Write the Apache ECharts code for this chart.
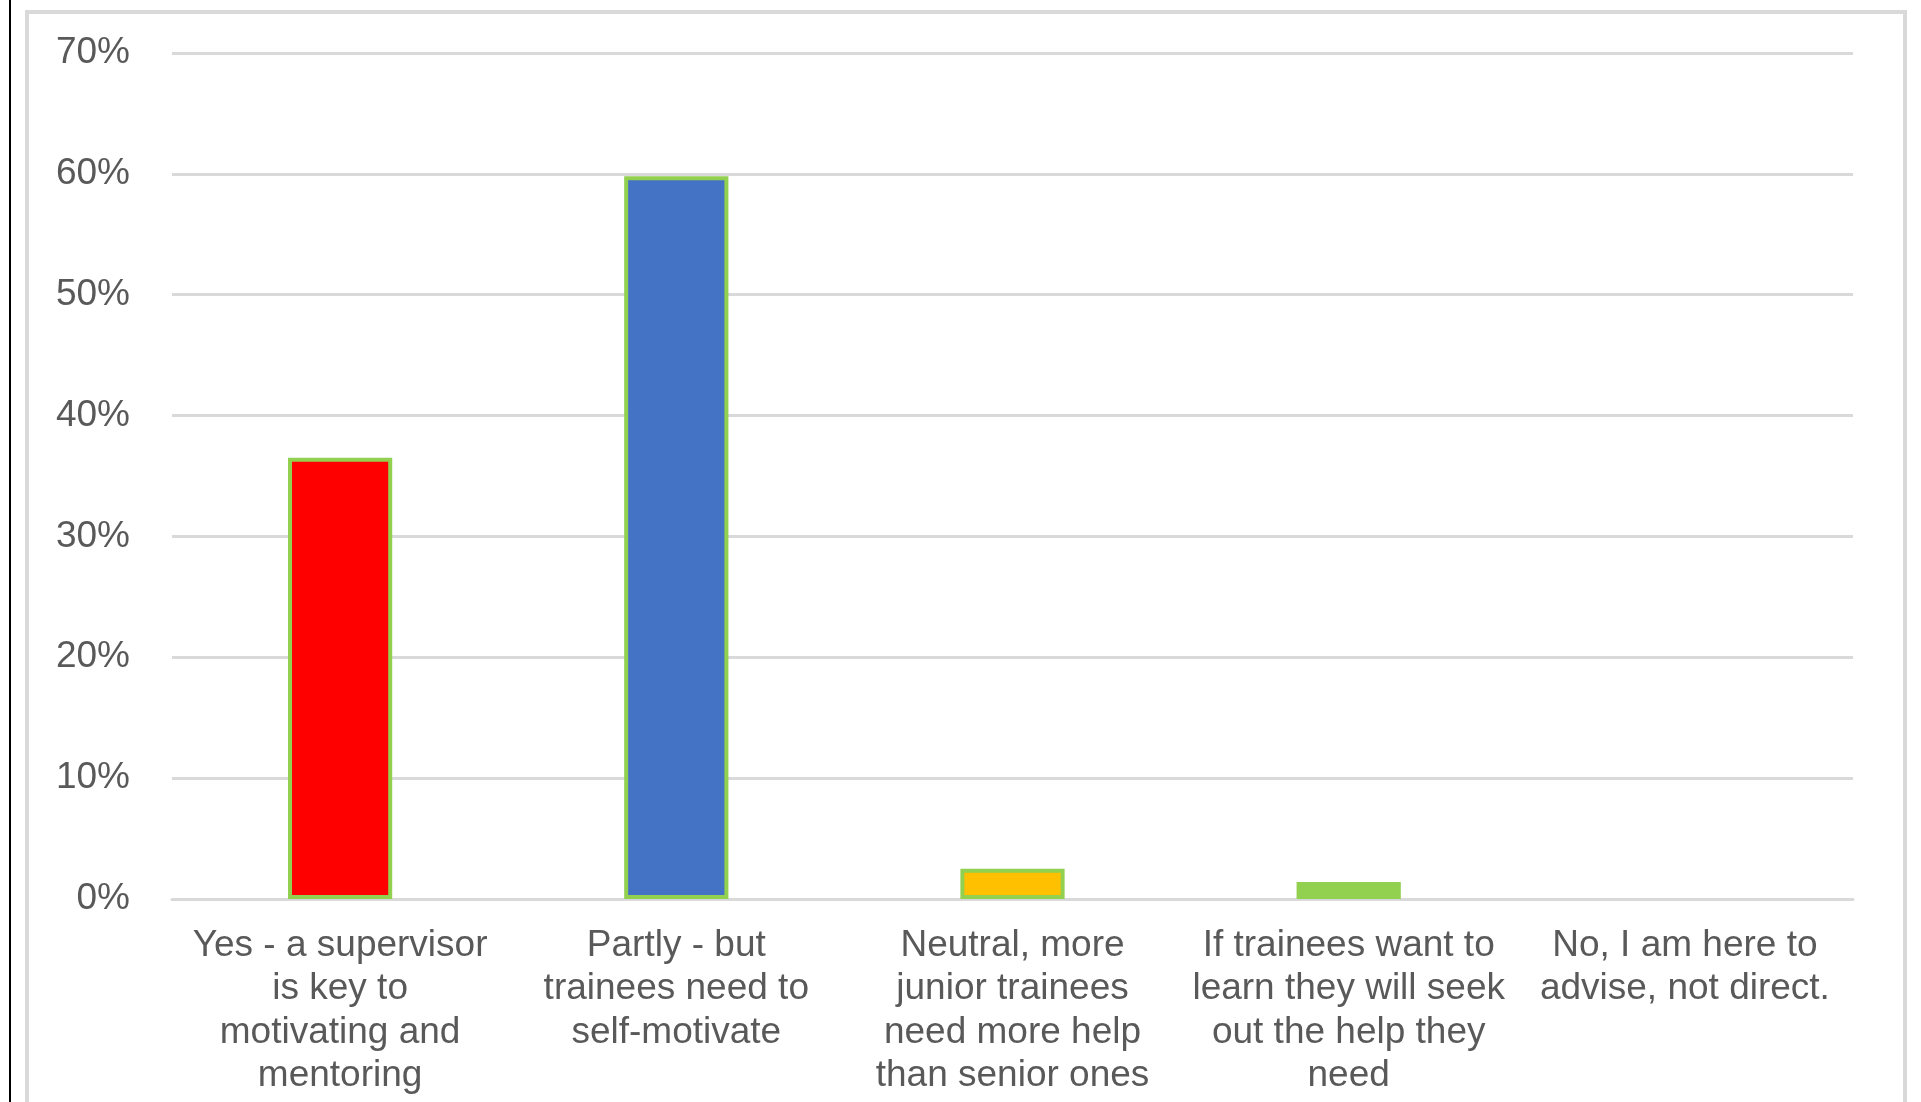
<!DOCTYPE html>
<html>
<head>
<meta charset="utf-8">
<script src="https://cdn.jsdelivr.net/npm/echarts@6/dist/echarts.min.js"></script>
<style>
  html, body { margin: 0; padding: 0; background: #ffffff; }
  #chart { width: 1921px; height: 1102px; }
</style>
</head>
<body>
<div id="chart"></div>
<script>
// Survey answers (share of respondents)
const categories = [
  'Yes - a supervisor\nis key to\nmotivating and\nmentoring',
  'Partly - but\ntrainees need to\nself-motivate',
  'Neutral, more\njunior trainees\nneed more help\nthan senior ones',
  'If trainees want to\nlearn they will seek\nout the help they\nneed',
  'No, I am here to\nadvise, not direct.'
];
const shares = [36.5, 59.8, 2.5, 1.4, 0];
const barColors = ['#FF0000', '#4472C4', '#FFC000', '#92D050', '#A5A5A5'];
const yTicks = [0, 10, 20, 30, 40, 50, 60, 70];

const chart = echarts.init(document.getElementById('chart'));
const textColor = '#595959';
const font = '"Liberation Sans", Arial, sans-serif';

chart.setOption({
  animation: false,
  backgroundColor: '#ffffff',
  graphic: [
    { type: 'line', shape: { x1: 10, y1: 0, x2: 10, y2: 1102 },
      style: { stroke: '#000000', lineWidth: 2 } },
    { type: 'polyline', shape: { points: [[27, 1102], [27, 12], [1905, 12], [1905, 1102]] },
      style: { stroke: '#d9d9d9', lineWidth: 4, fill: null } }
  ],
  grid: { left: 172, right: 68, top: 53, bottom: 203 },
  xAxis: {
    type: 'category',
    data: categories,
    axisLine: { show: true, lineStyle: { color: '#d9d9d9', width: 3 } },
    axisTick: { show: false },
    axisLabel: {
      interval: 0,
      margin: 25,
      color: textColor,
      fontFamily: font,
      fontSize: 37,
      lineHeight: 43.5,
      align: 'center'
    }
  },
  yAxis: {
    type: 'value',
    min: yTicks[0],
    max: yTicks[yTicks.length - 1],
    interval: 10,
    axisLine: { show: false },
    axisTick: { show: false },
    splitLine: { lineStyle: { color: '#d9d9d9', width: 3 } },
    axisLabel: {
      margin: 42,
      color: textColor,
      fontFamily: font,
      fontSize: 37,
      formatter: v => v + '%'
    }
  },
  series: [{
    type: 'bar',
    barWidth: '31%',
    data: shares.map((v, i) => ({
      value: v,
      itemStyle: {
        color: barColors[i],
        borderColor: '#92D050',
        borderWidth: v > 0 ? 4 : 0
      }
    }))
  }]
});
</script>
</body>
</html>
